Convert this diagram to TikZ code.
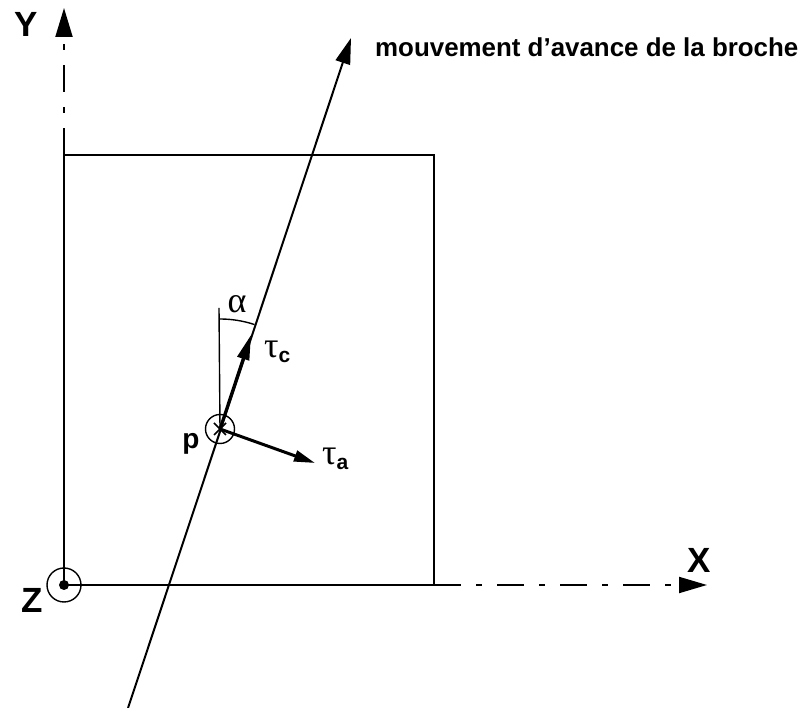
\documentclass[tikz,border=0pt]{standalone}
\usepackage{fontspec}
\setmainfont{Liberation Sans}
\newfontfamily\grk{Liberation Serif}
\usetikzlibrary{arrows.meta,calc}
\begin{document}
\begin{tikzpicture}[x=1pt,y=1pt,
  thinline/.style={line width=2pt},
  axisline/.style={line width=2pt, dash pattern=on 27pt off 15pt on 6pt off 15pt},
  vec/.style={line width=3pt},
  lbl/.style={inner sep=0pt, font=\fontsize{35}{35}\selectfont\bfseries},
  glbl/.style={inner sep=0pt, anchor=base west}
]
\useasboundingbox (0,0) rectangle (805,708);
% key points
\coordinate (SW) at (64,123);
\coordinate (NW) at (64,553);
\coordinate (NE) at (434,553);
\coordinate (SE) at (434,123);
\coordinate (Ytip) at (64,700);
\coordinate (Xtip) at (707,123);
\coordinate (B) at (128,0);
\coordinate (T) at (351,670);
\coordinate (p) at (220,279);
\coordinate (tc) at (251,373);
\coordinate (ta) at (315,245);
\coordinate (V) at (219,400);
% square
\draw[thinline] (SW) -- (NW) -- (NE) -- (SE) -- cycle;
% axes
\draw[axisline, -{Triangle[length=29pt,width=17pt]}] (NW) -- (Ytip);
\draw[axisline, -{Triangle[length=28pt,width=16pt]}] (SE) -- (Xtip);
% origin
\draw[line width=1.4pt] (SW) circle (17);
\fill (SW) circle (5);
% feed line
\draw[thinline, -{Triangle[length=26pt,width=15pt]}] (B) -- (T);
% point p
\draw[line width=1.4pt] (p) circle (14.5);
\draw[line width=1.6pt] ($(p)+(-6,-6)$) -- ($(p)+(6,6)$);
\draw[line width=1.6pt] ($(p)+(-6,6)$) -- ($(p)+(6,-6)$);
% vectors
\draw[vec, -{Triangle[length=25pt,width=12pt]}] (p) -- (tc);
\draw[vec, -{Triangle[length=21pt,width=11pt]}] (p) -- (ta);
% angle alpha
\draw[line width=1.4pt] (p) -- (V);
\draw[line width=1.4pt] (220,389) arc[start angle=90, end angle=71.7, radius=110];
% labels
\node[lbl] (Ylab) at (26,684) {Y};
\node[lbl] (Xlab) at (699,148) {X};
\node[lbl] (Zlab) at (32,108) {Z};
\node[inner sep=0pt, anchor=base, font=\fontsize{28}{28}\selectfont\bfseries] (plab) at (191,259) {p};
\node[glbl] (tclab) at (264,350) {\fontsize{36}{36}\selectfont\grk τ\fontsize{21}{21}\selectfont\raisebox{-5pt}{\fontspec{Liberation Sans}\bfseries c}};
\node[glbl] (talab) at (322,243) {\fontsize{36}{36}\selectfont\grk τ\fontsize{21}{21}\selectfont\raisebox{-5pt}{\fontspec{Liberation Sans}\bfseries a}};
\node[inner sep=0pt, font=\fontsize{36}{36}\selectfont\grk] (alab) at (237,404) {α};
\node[glbl, font=\fontsize{25.9}{26}\selectfont\bfseries] (title) at (375,651) {mouvement d'avance de la broche};
\end{tikzpicture}
\end{document}
